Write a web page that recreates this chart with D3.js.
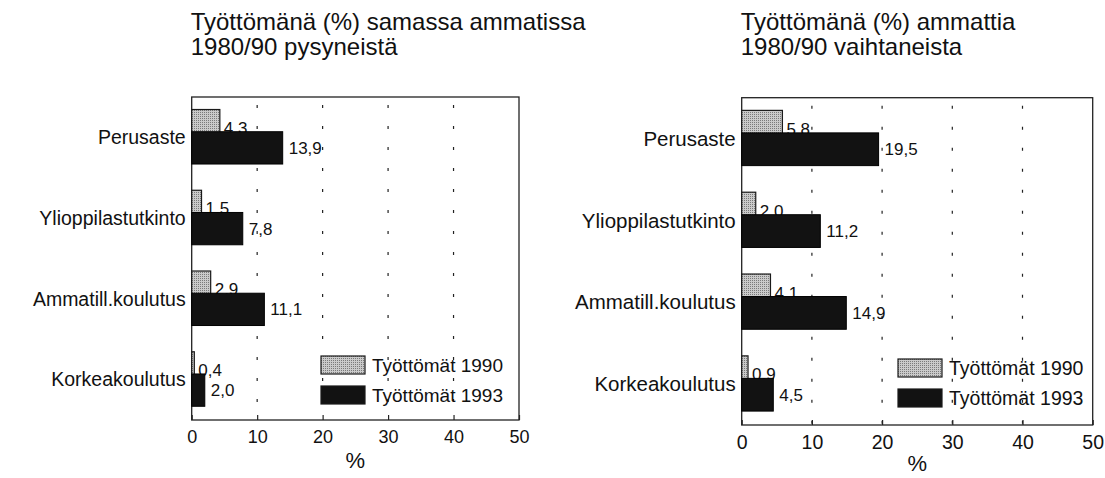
<!DOCTYPE html>
<html lang="fi">
<head>
<meta charset="UTF-8">
<title>Työttömänä (%)</title>
<style>
  body { margin: 0; background: #fff; }
  text { font-family: "Liberation Sans", Arial, sans-serif; fill: #111; }
</style>
</head>
<body>
<script src="https://cdn.jsdelivr.net/npm/d3@7/dist/d3.min.js"></script>
<script>
// data
const categories = ['Perusaste', 'Ylioppilastutkinto', 'Ammatill.koulutus', 'Korkeakoulutus'];
const seriesNames = ['Työttömät 1990', 'Työttömät 1993'];
const stayed1990 = [4.3, 1.5, 2.9, 0.4];
const stayed1993 = [13.9, 7.8, 11.1, 2.0];
const changed1990 = [5.8, 2.0, 4.1, 0.9];
const changed1993 = [19.5, 11.2, 14.9, 4.5];
const xTicks = [0, 10, 20, 30, 40, 50];
const gridTicks = [10, 20, 30, 40];
const titleLeft = ['Työttömänä (%) samassa ammatissa', '1980/90 pysyneistä'];
const titleRight = ['Työttömänä (%) ammattia', '1980/90 vaihtaneista'];

const width = 1105, height = 478;

const svg = d3.select('body').append('svg')
  .attr('width', width)
  .attr('height', height);

// stippled grey fill
const defs = svg.append('defs');
const pat = defs.append('pattern')
  .attr('id', 'stipple')
  .attr('width', 2).attr('height', 2)
  .attr('patternUnits', 'userSpaceOnUse');
pat.append('rect').attr('width', 2).attr('height', 2).attr('fill', '#cacaca');
pat.append('rect').attr('width', 1).attr('height', 1).attr('fill', '#7a7a7a');

const fmt = v => d3.format('.1f')(v).replace('.', ',');

// the right panel is drawn slightly larger in the original scan
const panels = [
  { left: 191.7, right: 519, top: 97, bottom: 420, title: titleLeft, a: stayed1990, b: stayed1993,
    legendX: 321, legendY: 356, pctY: 460, tickY: 437,
    catSize: 19.5, tickSize: 18, valSize: 17, legSize: 19 },
  { left: 741.7, right: 1092.7, top: 97.7, bottom: 425, title: titleRight, a: changed1990, b: changed1993,
    legendX: 898, legendY: 359, pctY: 463, tickY: 442,
    catSize: 20.5, tickSize: 19.5, valSize: 17, legSize: 19.5 }
];

panels.forEach(p => {
  const g = svg.append('g');

  const x = d3.scaleLinear().domain([0, 50]).range([p.left, p.right]);
  const y = d3.scaleBand().domain(categories).range([p.top, p.bottom]);
  const bw = y.bandwidth();

  // title
  g.append('text')
    .attr('font-size', 24)
    .selectAll('tspan')
    .data(p.title)
    .enter().append('tspan')
    .attr('x', p.left - 1)
    .attr('y', (d, i) => 30 + i * 25)
    .text(d => d);

  // dashed grid
  g.selectAll('.grid')
    .data(gridTicks)
    .enter().append('line')
    .attr('x1', d => x(d)).attr('x2', d => x(d))
    .attr('y1', p.top).attr('y2', p.bottom)
    .attr('stroke', '#222')
    .attr('stroke-width', 1.2)
    .attr('stroke-dasharray', '3,18')
    .attr('stroke-dashoffset', 13);

  // frame
  g.append('rect')
    .attr('x', p.left).attr('y', p.top)
    .attr('width', p.right - p.left).attr('height', p.bottom - p.top)
    .attr('fill', 'none')
    .attr('stroke', '#222')
    .attr('stroke-width', 1.3);

  // bottom axis
  const axis = g.append('g')
    .attr('transform', 'translate(0,' + p.bottom + ')')
    .call(d3.axisBottom(x).tickValues(xTicks).tickSize(-5).tickFormat(d3.format('d')));
  axis.select('.domain').remove();
  axis.selectAll('line').attr('stroke', '#222').attr('stroke-width', 1.2);
  axis.selectAll('text')
    .attr('y', p.tickY - p.bottom)
    .attr('dy', '0.35em')
    .attr('font-size', p.tickSize)
    .attr('font-family', '"Liberation Sans", Arial, sans-serif')
    .attr('fill', '#111');

  g.append('text')
    .attr('x', (p.left + p.right) / 2)
    .attr('y', p.pctY)
    .attr('dy', '0.35em')
    .attr('text-anchor', 'middle')
    .attr('font-size', 22)
    .text('%');

  // category labels
  g.selectAll('.cat')
    .data(categories)
    .enter().append('text')
    .attr('x', p.left - 6)
    .attr('y', d => y(d) + bw * 0.5)
    .attr('dy', '0.35em')
    .attr('text-anchor', 'end')
    .attr('font-size', p.catSize)
    .text(d => d);

  const rows = categories.map((c, i) => ({ c: c, a: p.a[i], b: p.b[i] }));

  // 1990 bars + labels
  g.selectAll('.barA')
    .data(rows)
    .enter().append('rect')
    .attr('x', x(0))
    .attr('y', d => y(d.c) + bw * 0.155)
    .attr('width', d => x(d.a) - x(0))
    .attr('height', bw * 0.39)
    .attr('fill', 'url(#stipple)')
    .attr('stroke', '#1a1a1a')
    .attr('stroke-width', 1.2);

  g.selectAll('.labA')
    .data(rows)
    .enter().append('text')
    .attr('x', d => x(d.a) + 4)
    .attr('y', d => y(d.c) + bw * 0.43 + 2)
    .attr('font-size', p.valSize)
    .text(d => fmt(d.a));

  // 1993 bars + labels
  g.selectAll('.barB')
    .data(rows)
    .enter().append('rect')
    .attr('x', x(0))
    .attr('y', d => y(d.c) + bw * 0.43)
    .attr('width', d => x(d.b) - x(0))
    .attr('height', bw * 0.4)
    .attr('fill', '#121212')
    .attr('stroke', '#000')
    .attr('stroke-width', 1);

  g.selectAll('.labB')
    .data(rows)
    .enter().append('text')
    .attr('x', d => x(d.b) + 6)
    .attr('y', d => y(d.c) + bw * 0.63)
    .attr('dy', '0.35em')
    .attr('font-size', p.valSize)
    .text(d => fmt(d.b));

  // legend
  const leg = g.append('g').attr('transform', 'translate(' + p.legendX + ',' + p.legendY + ')');
  const fills = ['url(#stipple)', '#121212'];
  seriesNames.forEach((s, i) => {
    leg.append('rect')
      .attr('x', 0).attr('y', i * 30)
      .attr('width', 44).attr('height', 18)
      .attr('fill', fills[i])
      .attr('stroke', '#1a1a1a')
      .attr('stroke-width', 1.2);
    leg.append('text')
      .attr('x', 51).attr('y', i * 30 + 9)
      .attr('dy', '0.35em')
      .attr('font-size', p.legSize)
      .text(s);
  });
});
</script>
</body>
</html>
